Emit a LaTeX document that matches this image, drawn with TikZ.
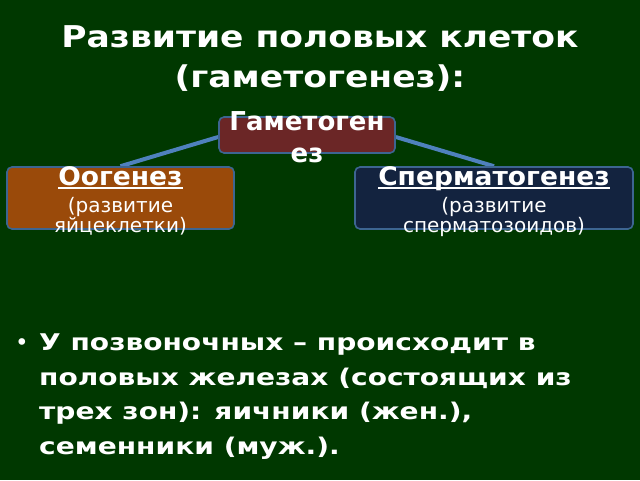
\documentclass[tikz,border=0pt]{standalone}
\usepackage{fontspec}
\setmainfont{DejaVu Sans}
\newfontfamily\titlefont[FakeStretch=1.15]{DejaVu Sans}
\newfontfamily\bulfont[FakeStretch=1.22]{DejaVu Sans}
\newfontfamily\hdfont[FakeStretch=1.04]{DejaVu Sans}
\usetikzlibrary{backgrounds}
\definecolor{bg}{HTML}{003800}
\definecolor{topc}{HTML}{6B2626}
\definecolor{leftc}{HTML}{9A4A0A}
\definecolor{rightc}{HTML}{13233F}
\definecolor{edgec}{HTML}{3D6591}
\definecolor{linec}{HTML}{4F81BD}
\newcommand\myul[1]{\setbox0\hbox{#1}\rlap{\rule[-3.5pt]{\wd0}{1.8pt}}\box0}
\tikzset{
  boxn/.style={draw=edgec, line width=1.6pt, rounded corners=5pt, inner sep=0pt},
  txt/.style={text=white, inner sep=0pt, anchor=base},
  conn/.style={linec, line width=4pt},
  ttl/.style={txt, font=\titlefont\bfseries\fontsize{30}{36}\selectfont},
  hd/.style={txt, font=\hdfont\bfseries\fontsize{25.5}{30}\selectfont},
  sub/.style={txt, font=\fontsize{20}{22}\selectfont},
  bul/.style={txt, anchor=base west, font=\bulfont\bfseries\fontsize{23}{28}\selectfont}
}
\begin{document}
\begin{tikzpicture}[x=1pt,y=-1pt]
\begin{pgfonlayer}{background}
\fill[bg] (0,0) rectangle (640,480);
\end{pgfonlayer}
\useasboundingbox (0,0) rectangle (640,480);
% title
\node[ttl] (t1) at (320,47) {Развитие половых клеток};
\node[ttl] (t2) at (320,87) {(гаметогенез):};
% boxes
\node[boxn, fill=topc, minimum width=176pt, minimum height=36pt] (tb) at (307,135) {};
\node[boxn, fill=leftc, minimum width=227pt, minimum height=62pt] (lb) at (120.5,198) {};
\node[boxn, fill=rightc, minimum width=278pt, minimum height=62pt] (rb) at (494,198) {};
% connectors
\begin{pgfonlayer}{background}
\draw[conn] (lb.north) -- ([yshift=-2pt]tb.west);
\draw[conn] (rb.north) -- ([yshift=-2pt]tb.east);
\end{pgfonlayer}
% box texts
\node[txt, font=\bfseries\fontsize{26}{30}\selectfont] (tb1) at (307,130) {Гаметоген};
\node[txt, font=\bfseries\fontsize{26}{30}\selectfont] (tb2) at (307,162) {ез};
\node[hd] (lh) at (120.5,185) {\myul{Оогенез}};
\node[sub] (l1) at (120.5,212) {(развитие};
\node[sub] (l2) at (120.5,232) {яйцеклетки)};
\node[hd] (rh) at (494,185) {\myul{Сперматогенез}};
\node[sub] (r1) at (494,212) {(развитие};
\node[sub] (r2) at (494,232) {сперматозоидов)};
% bullet text
\node[bul, font=\fontsize{23}{28}\selectfont] (bu) at (15,350) {•};
\node[bul] (b1) at (39,350) {У позвоночных – происходит в};
\node[bul] (b2) at (39,385) {половых железах (состоящих из};
\node[bul] (b3) at (39,419.5) {трех зон): яичники (жен.),};
\node[bul] (b4) at (39,454) {семенники (муж.).};
\end{tikzpicture}
\end{document}
